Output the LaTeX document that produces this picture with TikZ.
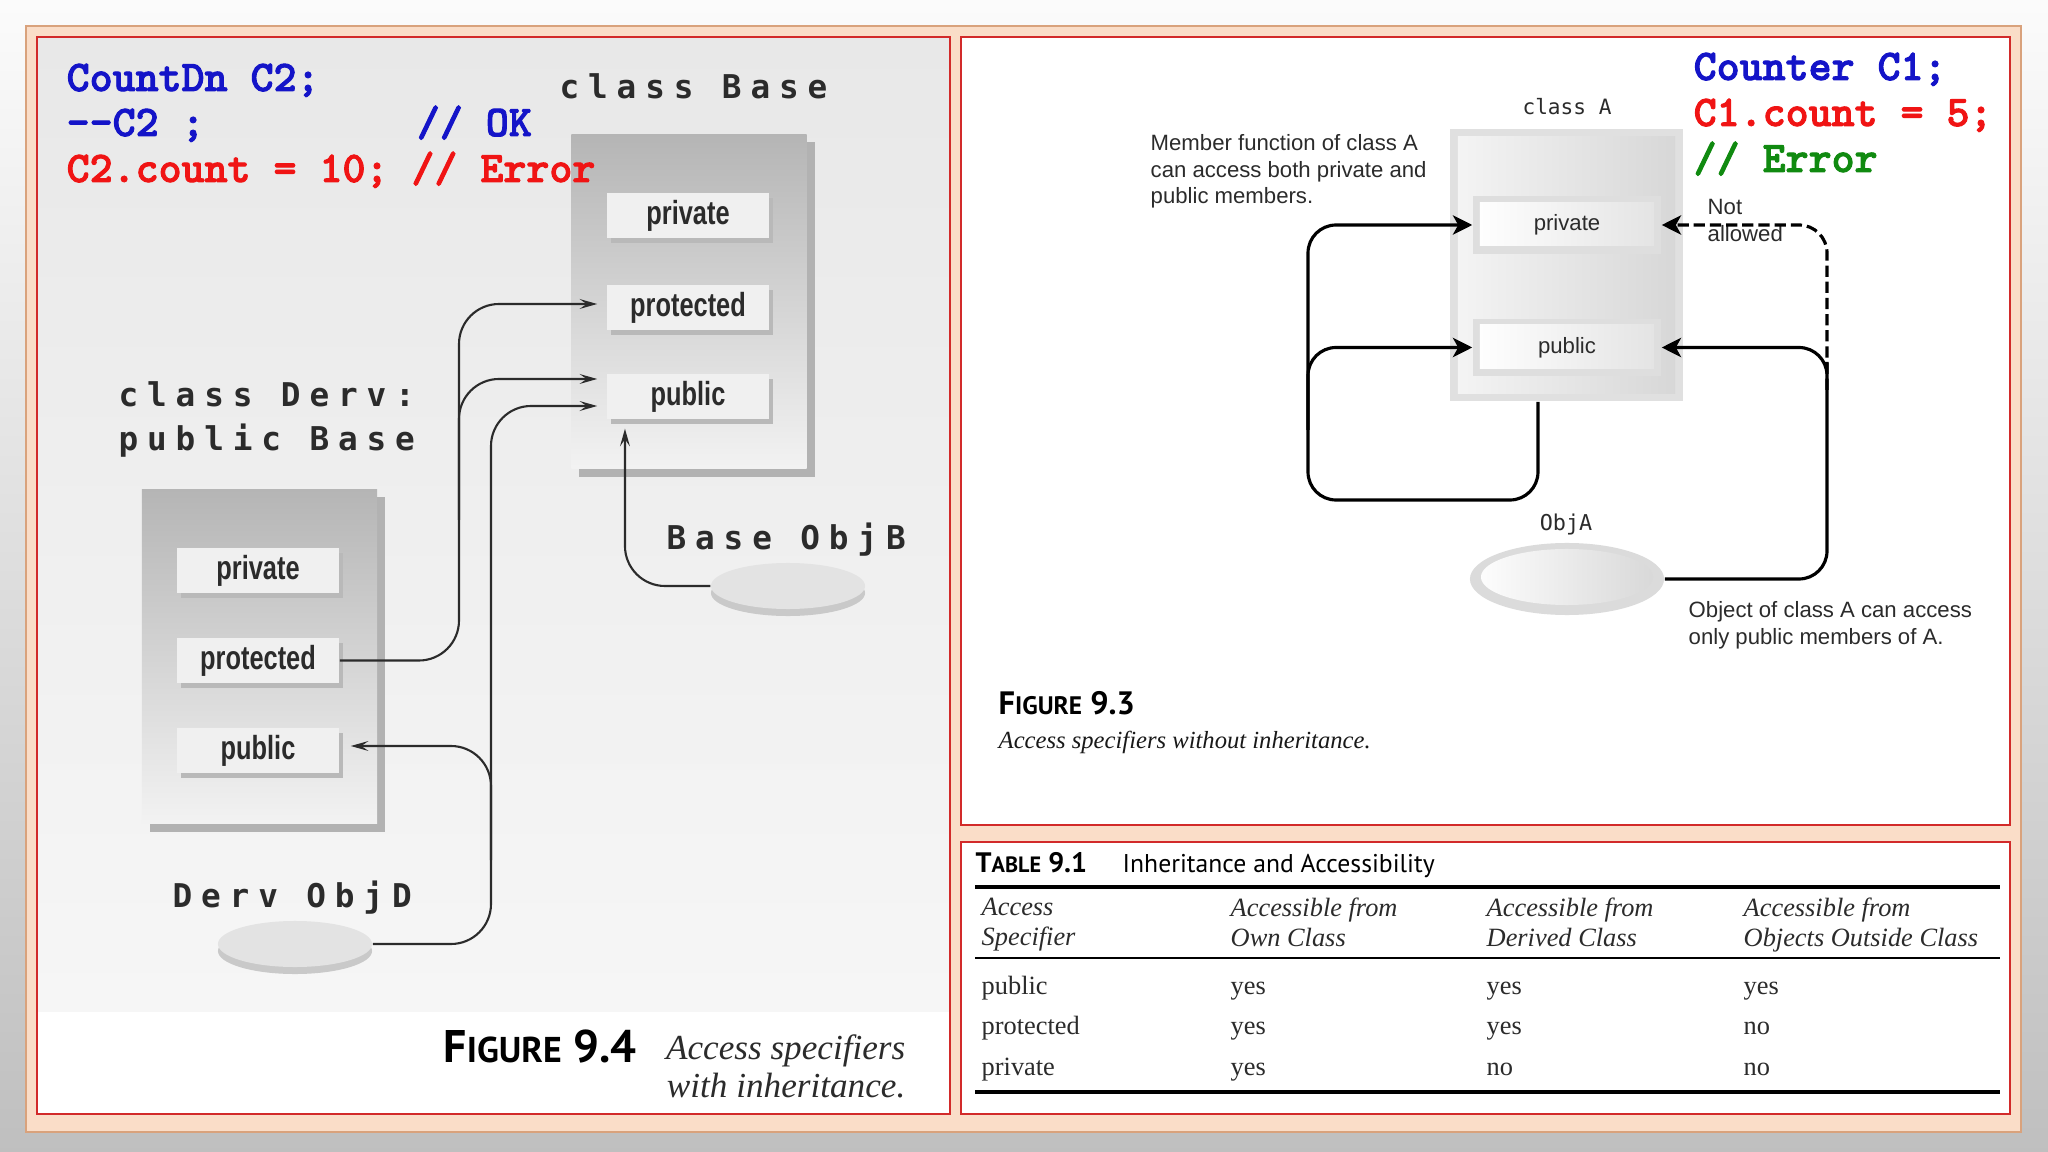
\documentclass[tikz,border=0pt]{standalone}
\usepackage{fontspec}
\setmainfont{Liberation Serif}
\newfontfamily\codefont[FakeBold=2.2]{lmmonolt10-bold.otf}
\newfontfamily\widemono[LetterSpace=27]{DejaVu Sans Mono}
\newfontfamily\plainmono{DejaVu Sans Mono}
\newfontfamily\narrowsans[FakeStretch=0.76]{Liberation Sans}
\newfontfamily\helvfont{Liberation Sans}
\newfontfamily\figfont{PT Sans}
\usetikzlibrary{arrows.meta,shapes.geometric,shadows}
\definecolor{peach}{HTML}{FADDC8}
\definecolor{peachline}{HTML}{D9A27C}
\definecolor{panelred}{HTML}{D22A2A}
\definecolor{codeblue}{HTML}{1414C8}
\definecolor{codered}{HTML}{F01414}
\definecolor{codegreen}{HTML}{108A10}
\definecolor{inkgray}{HTML}{2B2B2B}
% size, small size, first letter, rest, number
\newcommand{\figlabel}[5]{{\figfont\bfseries\fontsize{#1}{#1}\selectfont #3\fontsize{#2}{#1}\selectfont #4\fontsize{#1}{#1}\selectfont\ #5}}

\begin{document}
\begin{tikzpicture}[x=0.01cm,y=-0.01cm,
    codeln/.style={font=\codefont\fontsize{12.45}{14}\selectfont,inner sep=0pt,anchor=base west},
    monolbl/.style={font=\widemono\bfseries\fontsize{9.3}{12.5}\selectfont,text=inkgray,inner sep=0pt},
    larr/.style={draw=inkgray,line width=0.6pt,rounded corners=0.4cm,-{Stealth[length=5pt,width=2.8pt,inset=2pt]}},
    rarr/.style={draw=black,line width=0.9pt,rounded corners=0.28cm,-{Stealth[length=5.5pt,width=5.5pt,inset=1.5pt]}},
    classbox/.style={top color=gray!58,bottom color=gray!10,minimum width=2.35cm,minimum height=3.34cm,
        drop shadow={shadow xshift=0.08cm,shadow yshift=-0.08cm,fill=gray!60,opacity=1}},
    lmem/.style={fill=gray!12,minimum width=1.62cm,minimum height=0.45cm,inner sep=0pt,
        font=\narrowsans\bfseries\fontsize{9.5}{11}\selectfont,text=inkgray,
        drop shadow={shadow xshift=0.04cm,shadow yshift=-0.05cm,fill=gray!55,opacity=1}},
    disc/.style={ellipse,fill=gray!22,minimum width=1.54cm,minimum height=0.46cm,inner sep=0pt,
        drop shadow={shadow xshift=0cm,shadow yshift=-0.07cm,fill=gray!42,opacity=1}},
    clsbox/.style={fill=gray!24,minimum width=2.33cm,minimum height=2.72cm,inner sep=0pt,
        path picture={\shade[left color=gray!8,right color=gray!32]
          ([shift={(0.08cm,-0.08cm)}]path picture bounding box.north west) rectangle
          ([shift={(-0.08cm,0.08cm)}]path picture bounding box.south east);}},
    rmem/.style={fill=gray!26,minimum width=1.88cm,minimum height=0.57cm,inner sep=0pt,
        font=\helvfont\fontsize{6.3}{7.5}\selectfont,text=inkgray,
        path picture={\shade[left color=white,right color=gray!22]
          ([shift={(0.07cm,-0.06cm)}]path picture bounding box.north west) rectangle
          ([shift={(-0.07cm,0.08cm)}]path picture bounding box.south east);}},
    objbub/.style={ellipse,fill=gray!28,minimum width=1.94cm,minimum height=0.72cm,inner sep=0pt,
        path picture={\shade[left color=white,right color=gray!32]
          ([yshift=0.02cm]path picture bounding box.center) ellipse [x radius=0.86cm,y radius=0.28cm];}},
    rtxt/.style={font=\helvfont\fontsize{6.3}{7.55}\selectfont,text=inkgray,inner sep=0pt,anchor=north west,align=left},
    capit/.style={font=\itshape\fontsize{10}{11}\selectfont,text=inkgray,inner sep=0pt,anchor=base east},
    thead/.style={font=\itshape\fontsize{7.5}{8.5}\selectfont,text=inkgray,inner sep=0pt,anchor=north west,align=left},
    tcell/.style={font=\fontsize{7.5}{8.5}\selectfont,text=inkgray,inner sep=0pt,anchor=base west}]
    \useasboundingbox (0,0) rectangle (2048,1152);
    % backdrop and panels
    \shade[top color=gray!3,middle color=gray!38,bottom color=gray!50] (0,0) rectangle (2048,1152);
    \draw[peachline,fill=peach,line width=0.5pt] (26,26) rectangle (2021,1132);
    \shade[top color=gray!18,bottom color=gray!7] (37,37) rectangle (950,1012);
    \fill[white] (37,1012) rectangle (950,1114);
    \draw[panelred,line width=0.7pt] (37,37) rectangle (950,1114);
    \draw[panelred,line width=0.7pt,fill=white] (961,37) rectangle (2010,825);
    \draw[panelred,line width=0.7pt,fill=white] (961,842) rectangle (2010,1114);

    % ---- figure 9.4 (with inheritance) ----
    \node[monolbl,anchor=base west] (tbase) at (559,99) {class Base};
    \node[classbox] (cbase) at (689,301.5) {};
    \node[lmem] (bpriv) at (688,215.5) {private};
    \node[lmem] (bprot) at (688,307.5) {protected};
    \node[lmem] (bpub) at (688,396.5) {public};

    \node[monolbl,anchor=north west,align=left] (tderv) at (118,381) {class Derv:\\public Base};
    \node[classbox] (cderv) at (259.5,656.5) {};
    \node[lmem] (dpriv) at (258,570.5) {private};
    \node[lmem] (dprot) at (258,660.5) {protected};
    \node[lmem] (dpub) at (258,750.5) {public};

    \node[monolbl,anchor=base west] (tobjb) at (666,550) {Base ObjB};
    \node[disc] (objb) at (788,586) {};
    \node[monolbl,anchor=base west] (tobjd) at (172,907) {Derv ObjD};
    \node[disc] (objd) at (295,944) {};

    \coordinate (jd) at (459,520);
    \coordinate (jo) at (491,860);
    \draw[larr] (dprot.east) -| (jd) |- ([xshift=-0.09cm,yshift=0.035cm]bprot.west);
    \draw[larr] (jd) |- ([xshift=-0.09cm,yshift=0.175cm]bpub.west);
    \draw[larr] (objd.east) -| (jo) |- ([xshift=-0.09cm,yshift=-0.095cm]bpub.west);
    \draw[larr] (jo) |- ([xshift=0.11cm,yshift=0.045cm]dpub.east);
    \draw[larr] (objb.west) -| ([xshift=-0.63cm,yshift=-0.09cm]bpub.south);

    \node[codeln,text=codeblue] (lc1) at (66,91) {CountDn C2;};
    \node[codeln,text=codeblue] (lc2) at (66,136) {-{}-C2 ;\hspace{4.85em}// OK};
    \node[codeln,text=codered] (lc3) at (66,182) {C2.count = 10; // Error};

    \node[anchor=base west,inner sep=0pt,text=black] (fig4) at (443,1062) {\figlabel{13}{10.2}{F}{IGURE}{9.4}};
    \node[capit] (cap4) at (906,1059) {Access specifiers};
    \node[capit] (cap4b) at (906,1097) {with inheritance.};

    % ---- figure 9.3 (without inheritance) ----
    \node[codeln,text=codeblue] (rc1) at (1693,80) {Counter C1;};
    \node[codeln,text=codered] (rc2) at (1693,126) {C1.count = 5;};
    \node[codeln,text=codegreen] (rc3) at (1693,172) {// Error};

    \node[font=\plainmono\fontsize{6}{7}\selectfont,text=inkgray,anchor=base,inner sep=0pt] (tclsa) at (1567,115) {class A};
    \node[clsbox] (clsa) at (1566.5,265) {};
    \node[rmem] (rpriv) at (1567,225) {private};
    \node[rmem] (rpub) at (1567,347.5) {public};
    \node[font=\plainmono\fontsize{6.2}{7}\selectfont,text=inkgray,anchor=base,inner sep=0pt] (tobja) at (1566,531) {ObjA};
    \node[objbub] (obja) at (1567,579) {};

    \node[rtxt] (memnote) at (1150,134) {Member function of class A\\can access both private and\\public members.};
    \node[rtxt] (notok) at (1707,199) {Not\\allowed};
    \node[rtxt] (objnote) at (1688,601) {Object of class A can access\\only public members of A.};

    \coordinate (loopa) at (1308,500);
    \coordinate (ja) at (1308,430);
    \coordinate (jb) at (1827,390);
    \draw[rarr] ([xshift=-0.285cm]clsa.south) |- (loopa) |- (rpriv.west);
    \draw[rarr] (ja) |- (rpub.west);
    \draw[rarr] (obja.east) -| (jb) |- (rpub.east);
    \draw[rarr,dash pattern=on 3.2pt off 1.4pt] (jb) |- (rpriv.east);

    \node[anchor=base west,inner sep=0pt,text=black] (fig3) at (998,715) {\figlabel{9.2}{7.2}{F}{IGURE}{9.3}};
    \node[anchor=base west,inner sep=0pt,text=gray!20!black,font=\itshape\fontsize{7}{8}\selectfont] (cap3) at (998,748) {Access specifiers without inheritance.};

    % ---- table 9.1 ----
    \node[anchor=base west,inner sep=0pt,text=black] (tab1) at (975,872) {\figlabel{8}{6.3}{T}{ABLE}{9.1}};
    \node[anchor=base west,inner sep=0pt,text=black,font=\figfont\fontsize{7.3}{8}\selectfont] (tabname) at (1122,872) {Inheritance and Accessibility};
    \draw[line width=0.95pt] (975,887) -- (2000,887);
    \foreach \hd/\hx [count=\i] in {{Access\\Specifier}/981,{Accessible from\\Own Class}/1230,
        {Accessible from\\Derived Class}/1486,{Accessible from\\Objects Outside Class}/1743}
        \node[thead] (hd\i) at (\hx,897) {\hd};
    \draw[line width=0.55pt] (975,958) -- (2000,958);
    \foreach \spec/\own/\derv/\outs [count=\r] in {public/yes/yes/yes,protected/yes/yes/no,private/yes/no/no}{
        \node[tcell] (sp\r) at (981,{953.5+40.5*\r}) {\spec};
        \node[tcell] (ow\r) at (1230,{953.5+40.5*\r}) {\own};
        \node[tcell] (dv\r) at (1486,{953.5+40.5*\r}) {\derv};
        \node[tcell] (ou\r) at (1743,{953.5+40.5*\r}) {\outs};
    }
    \draw[line width=1.4pt] (975,1092) -- (2000,1092);
\end{tikzpicture}
\end{document}
